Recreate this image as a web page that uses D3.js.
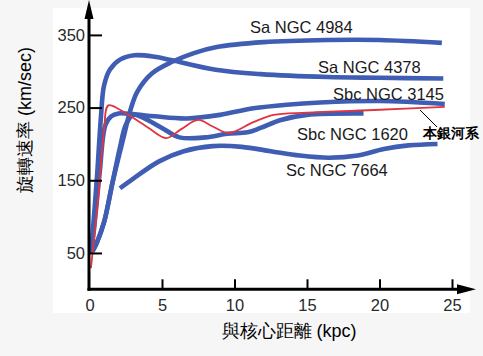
<!DOCTYPE html>
<html><head><meta charset="utf-8">
<script src="https://cdn.jsdelivr.net/npm/d3@7"></script>
<style>
html,body{margin:0;padding:0;background:#f6f6f6;}
svg{display:block;}
text{font-family:"Liberation Sans",Arial,Helvetica,sans-serif;}
</style></head>
<body>
<svg id="chart" width="483" height="356"></svg>
<script>
// ---- data (kpc, km/sec) ----
const xTicks = [0, 5, 10, 15, 20, 25];
const yTicks = [50, 150, 250, 350];

const ngc4984 = [[0.2,52],[0.5,64],[1.0,92],[1.6,148],[2.3,205],[2.8,245],[3.3,272],[4.3,297],[5.7,313],[7.2,325],[8.7,333],[12,340],[16.4,343],[20,343],[24.3,339]];
const ngc4378 = [[0.15,60],[0.5,150],[0.8,240],[1.0,280],[1.4,302],[2.1,316],[3.1,322],[4.5,320],[5.7,315],[8.7,302],[11.8,296],[16.4,292],[20,291],[24.4,290]];
const ngc3145 = [[0.1,50],[0.3,81],[0.7,160],[1.1,226],[1.5,238],[2.0,242],[3.0,241],[4.5,238],[6.7,235],[9.0,240],[11.3,249],[13.6,254],[15.9,257],[20,259],[24.5,255]];
const ngc1620 = [[0.2,52],[0.5,64],[1.0,92],[1.6,148],[2.1,195],[2.5,226],[3.0,240],[3.6,237],[5.0,222],[6.2,209],[8.0,209],[9.5,214],[10.9,216],[11.8,222],[13.2,233],[15,240],[18.9,242]];
const ngc7664 = [[2.1,139],[3.0,152],[4.8,176],[6.5,190],[8.5,197],[10.5,196],[12.5,190],[14.5,184],[16.5,181],[18.5,184],[20.3,193],[22,198],[24,200]];
const milkyWay = [[0.1,29],[0.6,125],[1.0,219],[1.3,253],[2.1,247],[4.0,223],[5.3,208],[6.3,220],[7.5,233],[8.5,224],[9.6,215],[11.3,230],[12.7,240],[15,243],[20,247],[24.5,251]];

const galaxyNames = ["Sa NGC 4984","Sa NGC 4378","Sbc NGC 3145","Sbc NGC 1620","Sc NGC 7664"];
const milkyWayName = "本銀河系";
const xTitle = "與核心距離 (kpc)";
const yTitle = "旋轉速率 (km/sec)";

// ---- drawing ----
const svg = d3.select("#chart");
svg.append("rect").attr("x",53).attr("y",8).attr("width",417).attr("height",305).attr("fill","#ffffff");

const x = d3.scaleLinear().domain([0,25]).range([89.5,452]);
const y = d3.scaleLinear().domain([0,350]).range([289.3,34.9]);

const line = d3.line().x(d=>x(d[0])).y(d=>y(d[1])).curve(d3.curveCatmullRom.alpha(0.5));

const blue = "#3f5db3";
[ngc7664, ngc1620, ngc3145, ngc4378, ngc4984].forEach(s=>{
  svg.append("path").attr("d",line(s)).attr("fill","none")
    .attr("stroke",blue).attr("stroke-width",4.6).attr("stroke-linecap","butt").attr("stroke-linejoin","round");
});
svg.append("path").attr("d",line(milkyWay)).attr("fill","none")
  .attr("stroke","#e0353f").attr("stroke-width",1.8);

// axes
const yAxis = d3.axisLeft(y).tickValues(yTicks).tickSizeInner(-13).tickSizeOuter(0).tickPadding(4);
const gy = svg.append("g").attr("transform",`translate(${x(0)-0.5},0)`).call(yAxis);
gy.select(".domain").remove();
gy.selectAll(".tick line").attr("stroke","#000").attr("stroke-width",2);
gy.selectAll(".tick text").attr("font-size",16.5).attr("fill","#2a2a2a").attr("font-family","Liberation Sans, Arial, sans-serif");

const xAxis = d3.axisBottom(x).tickValues(xTicks).tickSizeInner(-10).tickSizeOuter(0).tickPadding(10);
const gx = svg.append("g").attr("transform",`translate(0,${y(0)})`).call(xAxis);
gx.select(".domain").remove();
gx.selectAll(".tick line").attr("stroke","#000").attr("stroke-width",2);
gx.selectAll(".tick text").attr("font-size",16.5).attr("fill","#2a2a2a").attr("font-family","Liberation Sans, Arial, sans-serif");
gx.selectAll(".tick").filter(d=>d===0).select("line").remove();

// axis lines with arrows
const x0 = x(0)-0.5, y0 = y(0);
svg.append("line").attr("x1",x0).attr("y1",y0+1.5).attr("x2",x0).attr("y2",14).attr("stroke","#000").attr("stroke-width",3);
svg.append("path").attr("d",`M${x0},0 L${x0-4.5},19 L${x0+4.5},19 Z`).attr("fill","#000");
svg.append("line").attr("x1",x0-1.5).attr("y1",y0).attr("x2",462).attr("y2",y0).attr("stroke","#000").attr("stroke-width",3);
svg.append("path").attr("d",`M476,${y0} L457,${y0-5} L457,${y0+5} Z`).attr("fill","#000");

// labels
const labelPos = [[250,33],[318,73],[333,100],[297,140],[286,176]];
galaxyNames.forEach((t,i)=>{
  svg.append("text").attr("x",labelPos[i][0]).attr("y",labelPos[i][1])
    .attr("font-size",16.5).attr("fill","#1a1a1a").text(t);
});
svg.append("line").attr("x1",420).attr("y1",110).attr("x2",437).attr("y2",127).attr("stroke","#000").attr("stroke-width",1);
svg.append("text").attr("x",423).attr("y",138).attr("font-size",14).attr("font-weight","bold")
  .attr("font-family","Noto Sans CJK TC, sans-serif").attr("fill","#000").text(milkyWayName);

// axis titles
svg.append("text").attr("transform","translate(31,120) rotate(-90)").attr("text-anchor","middle")
  .attr("font-size",18).attr("font-family","Noto Sans CJK TC, Liberation Sans, sans-serif").attr("fill","#000").text(yTitle);
svg.append("text").attr("x",289).attr("y",337).attr("text-anchor","middle")
  .attr("font-size",18).attr("font-family","Noto Sans CJK TC, Liberation Sans, sans-serif").attr("fill","#000").text(xTitle);
</script>
</body></html>
